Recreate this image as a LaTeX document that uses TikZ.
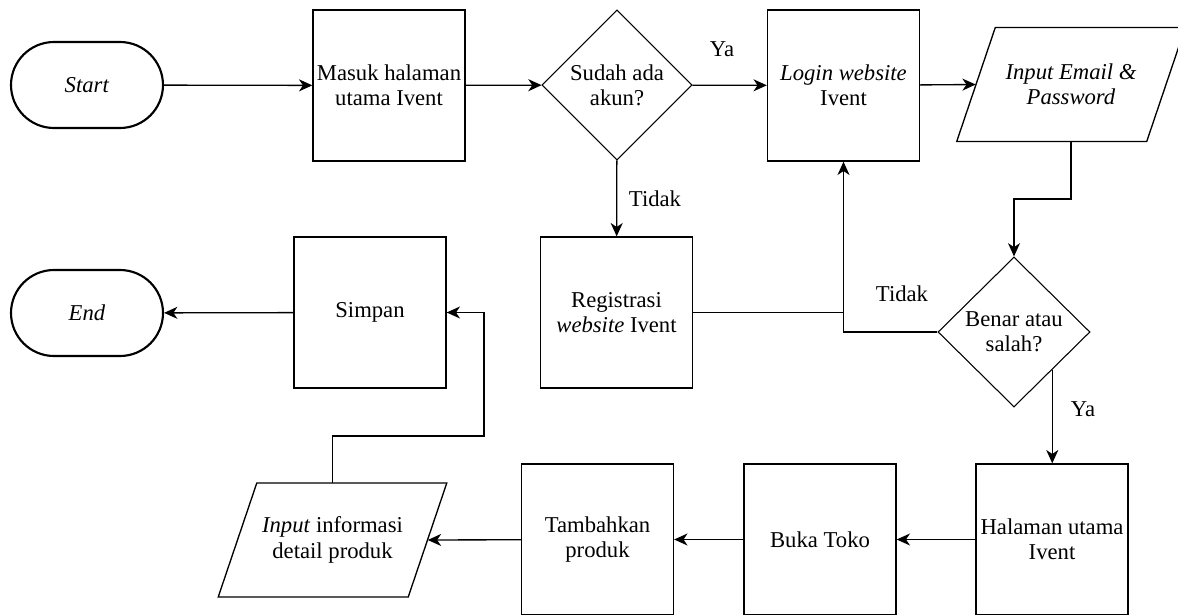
\documentclass[tikz,border=0pt]{standalone}
\usepackage{fontspec}
\setmainfont{Liberation Serif}
\usetikzlibrary{arrows.meta,shapes.geometric,shapes.misc}

\tikzset{
  teks/.style={font=\fontsize{17pt}{19pt}\selectfont,align=center},
  terminal/.style={teks,rounded rectangle,draw=black,line width=1.6pt,minimum width=114pt,minimum height=64.5pt,inner sep=0pt},
  proses/.style={teks,rectangle,draw=black,line width=1pt,minimum width=114pt,minimum height=113.25pt,inner sep=0pt},
  keputusan/.style={teks,diamond,draw=black,line width=0.8pt,minimum width=112.5pt,minimum height=112.5pt,inner sep=0pt},
  masukan/.style={teks,rectangle,minimum width=171pt,minimum height=85pt,inner sep=0pt},
  keterangan/.style={teks},
  panah/.style={draw=black,line width=1pt,-{Stealth[length=10pt,width=9pt,inset=3pt]}},
  garis/.style={draw=black,line width=1pt}
}

\begin{document}
\begin{tikzpicture}[x=0.75pt,y=-0.75pt]
\clip (0,0) rectangle (1178,614);
%
% baris atas
\node[terminal] (start) at (87,85) {\textit{Start}};
\node[proses] (masuk) at (389,85.5) {Masuk halaman\\utama Ivent};
\node[keputusan] (sudah) at (617,85) {Sudah ada\\akun?};
\node[proses] (login) at (843.5,85.5) {\textit{Login website}\\Ivent};
\node[masukan] (email) at (1071,84.5) {\textit{Input Email \&}\\\textit{Password}};
\draw[garis] (email.south west) -- ++(190,0) -- (email.north east) -- ++(-190,0) -- cycle;
%
% baris tengah
\node[terminal] (selesai) at (87,313) {\textit{End}};
\node[proses] (simpan) at (370,312.5) {Simpan};
\node[proses] (registrasi) at (616.5,312.5) {Registrasi\\\textit{website} Ivent};
\node[keputusan,minimum width=114pt] (benar) at (1014,332) {Benar atau\\salah?};
%
% baris bawah
\node[proses] (halaman) at (1052,539.5) {Halaman utama\\Ivent};
\node[proses] (buka) at (820,539.5) {Buka Toko};
\node[proses] (tambah) at (597.5,539.5) {Tambahkan\\produk};
\node[masukan] (info) at (332.5,540) {\textit{Input} informasi\\detail produk};
\draw[garis] (info.south west) -- ++(190,0) -- (info.north east) -- ++(-190,0) -- cycle;
%
% keterangan
\node[keterangan] (ya1) at (722,49) {Ya};
\node[keterangan] (tidak1) at (655,199) {Tidak};
\node[keterangan] (tidak2) at (902,294) {Tidak};
\node[keterangan] (ya2) at (1083,409) {Ya};
%
% titik belok
\coordinate (email-kiri) at ([xshift=14.25pt]email.west);
\coordinate (info-kanan) at ([xshift=-14.25pt]info.east);
\coordinate (belok1) at (1014,199);
\coordinate (belok2) at (484,436);
%
% panah
\draw[panah] (start) -- (masuk);
\draw[panah] (masuk) -- (sudah);
\draw[panah] (sudah) -- (login);
\draw[panah] (login) -- (email-kiri);
\draw[panah] (sudah) -- (registrasi);
\draw[panah] (email.south) |- (belok1) -- (benar.north);
\draw[panah] (benar.west) -| (login.south);
\draw[garis] (registrasi.east) -- (registrasi.east -| login.south);
\draw[panah] (benar.south east) -- (benar.south east |- halaman.north);
\draw[panah] (halaman) -- (buka);
\draw[panah] (buka) -- (tambah);
\draw[panah] (tambah) -- (info-kanan);
\draw[panah] (info.north) |- (belok2) |- (simpan.east);
\draw[panah] (simpan) -- (selesai);
\end{tikzpicture}
\end{document}
